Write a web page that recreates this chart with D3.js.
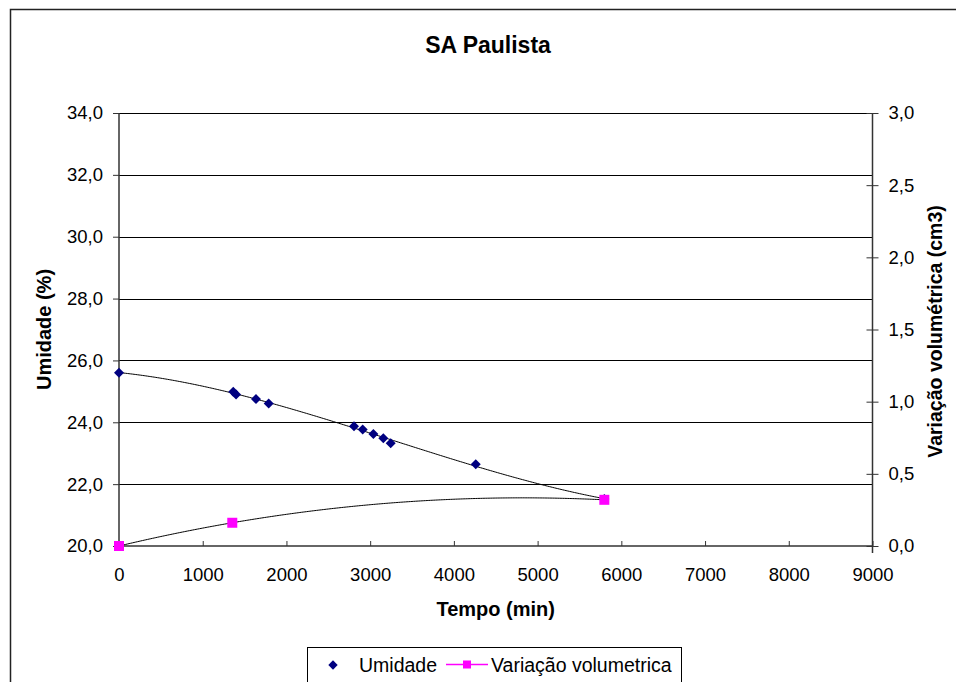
<!DOCTYPE html>
<html><head><meta charset="utf-8">
<script src="https://cdn.jsdelivr.net/npm/d3@7/dist/d3.min.js"></script>
<style>body{margin:0;background:#fff;} text{font-family:Arial,"Liberation Sans",sans-serif;}</style>
</head><body>
<svg id="c" width="956" height="682"></svg>
<script>
const title = "SA Paulista";
const umidadeTempo = [0, 1365, 1398, 1636, 1788, 2807, 2911, 3038, 3157, 3245, 4261, 5797];
const umidadeValues = [25.60, 24.99, 24.90, 24.75, 24.61, 23.87, 23.77, 23.62, 23.48, 23.32, 22.64, 21.52];
const volTempo = [0, 1353, 5797];
const volValues = [0.0, 0.161, 0.32];
const xTicks = [0,1000,2000,3000,4000,5000,6000,7000,8000,9000];
const yLeftTicks = [20,22,24,26,28,30,32,34];
const yRightTicks = [0,0.5,1.0,1.5,2.0,2.5,3.0];

const svg = d3.select("#c");
const L = 119, R = 872.5, T = 113, B = 546;
const x = d3.scaleLinear().domain([0,9000]).range([L,R]);
const yL = d3.scaleLinear().domain([20,34]).range([B,T]);
const yR = d3.scaleLinear().domain([0,3]).range([B,T]);
const fmt = v => d3.format(".1f")(v).replace(".", ",");

// outer border
svg.append("rect").attr("x",10.5).attr("y",9.5).attr("width",1000).attr("height",1000)
  .attr("fill","none").attr("stroke","#222").attr("stroke-width",1.5);

svg.append("text").attr("x",488).attr("y",53).attr("text-anchor","middle")
  .attr("font-weight","bold").attr("font-size",23).text(title);

// gridlines
svg.append("g").selectAll("line").data(yLeftTicks.slice(1)).join("line")
  .attr("x1",L).attr("x2",R).attr("y1",d=>Math.round(yL(d))+0.5).attr("y2",d=>Math.round(yL(d))+0.5)
  .attr("stroke","#000").attr("stroke-width",1);

// axes
const axL = d3.axisLeft(yL).tickValues(yLeftTicks).tickFormat(fmt).tickSize(6).tickPadding(10);
const gL = svg.append("g").attr("transform",`translate(${L},0)`).call(axL);
const axR = d3.axisRight(yR).tickValues(yRightTicks).tickFormat(fmt).tickSize(6).tickPadding(10);
const gR = svg.append("g").attr("transform",`translate(${R},0)`).call(axR);
gR.selectAll(".tick line").attr("x1",-6);
const axB = d3.axisBottom(x).tickValues(xTicks).tickFormat(d3.format("d")).tickSize(-5).tickPadding(22);
const gB = svg.append("g").attr("transform",`translate(0,${B})`).call(axB);
[gL,gR,gB].forEach(g=>{
  g.select(".domain").attr("stroke","#333").attr("stroke-width",1.5);
  g.selectAll(".tick line").attr("stroke","#333");
  g.selectAll(".tick text").attr("font-size",18.5).attr("fill","#000").attr("font-family","Arial, 'Liberation Sans', sans-serif");
});
gB.select(".domain").attr("d",`M${L},0H${R}`);
gL.select(".domain").attr("d",`M0,${T}V${B}`);
gR.select(".domain").attr("d",`M0,${T}V${B+7}`);

// axis titles
svg.append("text").attr("transform",`translate(51,${(T+B)/2}) rotate(-90)`).attr("text-anchor","middle")
  .attr("font-weight","bold").attr("font-size",20).text("Umidade (%)");
svg.append("text").attr("transform",`translate(942,${(T+B)/2+2}) rotate(-90)`).attr("text-anchor","middle")
  .attr("font-weight","bold").attr("font-size",19.5).text("Variação volumétrica (cm3)");
svg.append("text").attr("x",(L+R)/2).attr("y",616).attr("text-anchor","middle")
  .attr("font-weight","bold").attr("font-size",20).text("Tempo (min)");

// polynomial least squares fit
function polyfit(xs, ys, order){
  const n = order+1;
  const A = Array.from({length:n},()=>new Array(n+1).fill(0));
  xs.forEach((xv,k)=>{
    for(let i=0;i<n;i++){
      for(let j=0;j<n;j++) A[i][j]+=Math.pow(xv,i+j);
      A[i][n]+=ys[k]*Math.pow(xv,i);
    }
  });
  for(let i=0;i<n;i++){
    let p=i; for(let r=i+1;r<n;r++) if(Math.abs(A[r][i])>Math.abs(A[p][i])) p=r;
    [A[i],A[p]]=[A[p],A[i]];
    for(let r=0;r<n;r++){ if(r===i) continue; const f=A[r][i]/A[i][i]; for(let c=i;c<=n;c++) A[r][c]-=f*A[i][c]; }
  }
  return A.map((row,i)=>row[n]/row[i]);
}
const polyval=(c,xv)=>c.reduce((s,ci,i)=>s+ci*Math.pow(xv,i),0);
const cU = polyfit(umidadeTempo.map(v=>v/1000), umidadeValues, 3);
const cV = polyfit(volTempo.map(v=>v/1000), volValues, 2);
const xmaxU = d3.max(umidadeTempo), xmaxV = d3.max(volTempo);
const trendU = d3.range(0, xmaxU+1, 20).map(t=>[t, polyval(cU,t/1000)]);
const trendV = d3.range(0, xmaxV+1, 20).map(t=>[t, polyval(cV,t/1000)]);
svg.append("path").datum(trendU).attr("fill","none").attr("stroke","#000").attr("stroke-width",1)
  .attr("d",d3.line().x(d=>x(d[0])).y(d=>yL(d[1])));
svg.append("path").datum(trendV).attr("fill","none").attr("stroke","#000").attr("stroke-width",1)
  .attr("d",d3.line().x(d=>x(d[0])).y(d=>yR(d[1])));

// markers
svg.append("g").selectAll("path").data(umidadeTempo.map((t,i)=>[t,umidadeValues[i]])).join("path")
  .attr("d",d3.symbol().type(d3.symbolSquare).size(50)).attr("fill","#000080")
  .attr("transform",d=>`translate(${x(d[0])},${yL(d[1])}) rotate(45)`);
svg.append("g").selectAll("rect").data(volTempo.map((t,i)=>[t,volValues[i]])).join("rect")
  .attr("x",d=>x(d[0])-5).attr("y",d=>yR(d[1])-5).attr("width",10).attr("height",10).attr("fill","#FF00FF");

// legend
const lg = svg.append("g");
lg.append("rect").attr("x",307.5).attr("y",647.5).attr("width",374).attr("height",60)
  .attr("fill","#fff").attr("stroke","#000").attr("stroke-width",1);
lg.append("path").attr("d",d3.symbol().type(d3.symbolSquare).size(44)).attr("fill","#000080")
  .attr("transform","translate(333,665) rotate(45)");
lg.append("text").attr("x",359).attr("y",671.5).attr("font-size",19.5).text("Umidade");
lg.append("line").attr("x1",446).attr("x2",488).attr("y1",664.5).attr("y2",664.5).attr("stroke","#FF00FF").attr("stroke-width",1.5);
lg.append("rect").attr("x",463).attr("y",660.5).attr("width",8).attr("height",8).attr("fill","#FF00FF");
lg.append("text").attr("x",491).attr("y",671.5).attr("font-size",19.5).text("Variação volumetrica");
</script>
</body></html>
